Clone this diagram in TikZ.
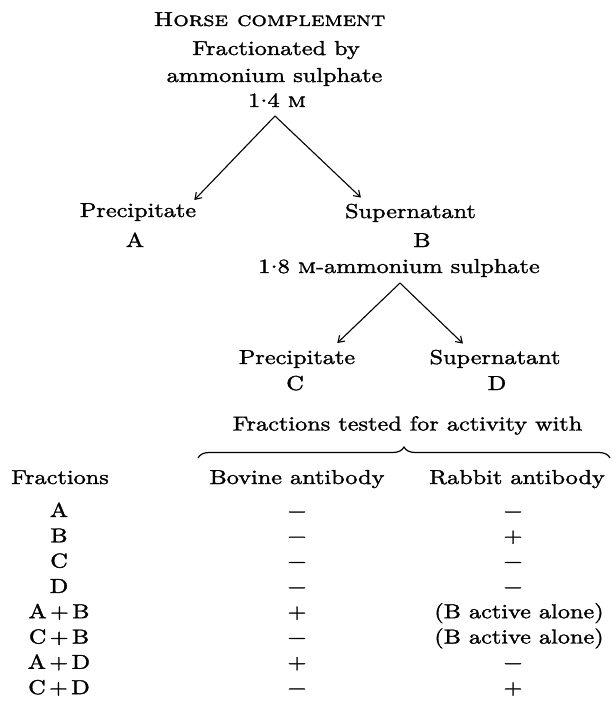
\documentclass[tikz,border=0pt]{standalone}
\usepackage{fontspec}
\setmainfont{lmroman10-regular.otf}[FakeStretch=1.2, FakeBold=1.5, SmallCapsFont=lmromancaps10-regular.otf, SmallCapsFeatures={FakeStretch=1.2, FakeBold=1.5}]
\usetikzlibrary{arrows.meta,decorations.pathreplacing}
\newcommand{\decpt}{\kern0.3pt\raisebox{0.6ex}{.}\kern0.3pt}
\begin{document}
\begin{tikzpicture}[x=1pt,y=-1pt,
  txt/.style={font=\fontsize{20.2}{24}\selectfont, inner sep=0pt, anchor=base},
  arr/.style={line width=1.1pt, -{Straight Barb[length=6pt,width=8pt]}},
  bracesty/.style={line width=1.2pt, decorate, decoration={brace, amplitude=11pt}}]
\useasboundingbox (0,0) rectangle (611,706);

% title block
\node[txt] (t1) at (269.5,26) {\textsc{Horse complement}};
\node[txt] (t2) at (276,55) {Fractionated by};
\node[txt] (t3) at (274.5,82) {ammonium sulphate};
\node[txt] (t4) at (277,107) {1\decpt4 \textsc{m}};
\coordinate (apex1) at (275,116);

% first split
\node[txt] (precA) at (138,217) {Precipitate};
\node[txt] (labA) at (135,247) {A};
\node[txt] (supB) at (410.5,218) {Supernatant};
\node[txt] (labB) at (422,247) {B};
\draw[arr] (apex1) -- ([shift={(-2,-3)}]precA.north east);
\draw[arr] (apex1) -- ([shift={(16,-6)}]supB.north west);

% second split
\node[txt] (conc2) at (399,273) {1\decpt8 \textsc{m}-ammonium sulphate};
\coordinate (apex2) at (400,283);
\node[txt] (precC) at (297,364) {Precipitate};
\node[txt] (labC) at (295,390) {C};
\node[txt] (supD) at (495,364) {Supernatant};
\node[txt] (labD) at (497,390) {D};
\draw[arr] (apex2) -- ([shift={(-18,-7)}]precC.north east);
\draw[arr] (apex2) -- ([shift={(33.5,-6)}]supD.north west);

% table heading
\node[txt] (tested) at (407.5,430.5) {Fractions tested for activity with};
\coordinate (braceL) at (198,458);
\coordinate (braceR) at (610,458);
\draw[bracesty] (braceL) -- (braceR);

\node[txt] (hFr) at (60,484) {Fractions};
\node[txt] (hBov) at (297,484) {Bovine antibody};
\node[txt] (hRab) at (517,484) {Rabbit antibody};

% rows
\node[txt] (f1) at (59,517)   {A};
\node[txt] (f2) at (59,542.3) {B};
\node[txt] (f3) at (59,567.6) {C};
\node[txt] (f4) at (59,592.9) {D};
\node[txt] (f5) at (59,618.2) {A\,+\,B};
\node[txt] (f6) at (59,643.5) {C\,+\,B};
\node[txt] (f7) at (59,668.8) {A\,+\,D};
\node[txt] (f8) at (59,694.1) {C\,+\,D};

\node[txt] (b1) at (297,517)   {−};
\node[txt] (b2) at (297,542.3) {−};
\node[txt] (b3) at (297,567.6) {−};
\node[txt] (b4) at (297,592.9) {−};
\node[txt] (b5) at (297,618.2) {+};
\node[txt] (b6) at (297,643.5) {−};
\node[txt] (b7) at (297,668.8) {+};
\node[txt] (b8) at (297,694.1) {−};

\node[txt] (r1) at (513,517)   {−};
\node[txt] (r2) at (513,542.3) {+};
\node[txt] (r3) at (513,567.6) {−};
\node[txt] (r4) at (513,592.9) {−};
\node[txt] (r5) at (519,618.2) {(B active alone)};
\node[txt] (r6) at (519,643.5) {(B active alone)};
\node[txt] (r7) at (513,668.8) {−};
\node[txt] (r8) at (513,694.1) {+};
\end{tikzpicture}
\end{document}
